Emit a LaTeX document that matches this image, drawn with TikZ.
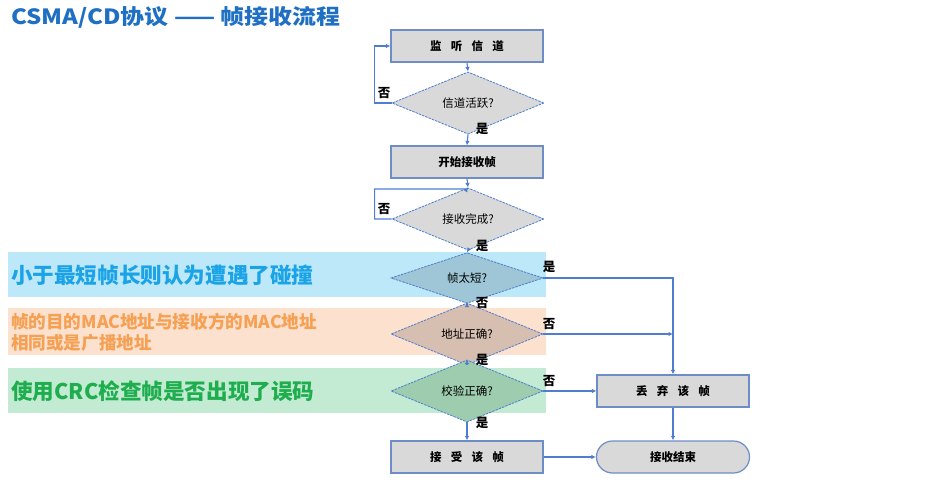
\documentclass[tikz,border=0pt]{standalone}
\usepackage{fontspec}
\setmainfont{Noto Sans CJK SC}
\usetikzlibrary{shapes.geometric,shapes.misc,arrows.meta}
\definecolor{titleblue}{HTML}{1F6FC2}
\definecolor{lineblue}{HTML}{4F7ED0}
\definecolor{boxborder}{HTML}{6E8CC6}
\definecolor{boxfill}{HTML}{D9D9D9}
\definecolor{bandblue}{HTML}{BDE8F9}
\definecolor{bandorange}{HTML}{FCE1CF}
\definecolor{bandgreen}{HTML}{C3EBD3}
\definecolor{txtblue}{HTML}{1AA3E6}
\definecolor{txtorange}{HTML}{F5A053}
\definecolor{txtgreen}{HTML}{1FAE4E}
\definecolor{dthree}{HTML}{9EC6D6}
\definecolor{dfour}{HTML}{D6BFB1}
\definecolor{dfive}{HTML}{9DCDAE}
\tikzset{
  procbox/.style={draw=boxborder, line width=1.2pt, fill=boxfill, minimum width=152pt, minimum height=32pt, inner sep=0pt, font=\fontsize{11.5}{13}\selectfont\bfseries},
  decbox/.style={diamond, draw=lineblue, dash pattern=on 2.5pt off 1pt, line width=0.8pt, fill=boxfill, minimum width=152pt, minimum height=31pt, inner sep=0pt, font=\fontsize{11.5}{13}\selectfont},
  endbox/.style={rounded rectangle, draw=boxborder, line width=1.2pt, fill=boxfill, minimum width=153pt, minimum height=32pt, inner sep=0pt, font=\fontsize{11.5}{13}\selectfont\bfseries},
  arr/.style={draw=lineblue, line width=1.1pt, -{Latex[length=4.5pt,width=4.5pt]}},
  lbl/.style={font=\fontsize{12.5}{14}\selectfont\bfseries, inner sep=0pt},
  bandtxt/.style={anchor=west, inner sep=0pt, font=\fontsize{21.6}{25}\selectfont\bfseries},
}
\newcommand{\gap}{\hspace{0.8em}}
\begin{document}
\begin{tikzpicture}[x=1pt,y=-1pt]
\useasboundingbox (0,0) rectangle (945,487);
% bands
\fill[bandblue] (8,252) rectangle (546,297);
\fill[bandorange] (8,308) rectangle (546,355);
\fill[bandgreen] (8,368) rectangle (546,413);
% title
\node[anchor=west, inner sep=0pt, text=titleblue, font=\fontsize{21}{24}\selectfont\bfseries] (title) at (11,17) {\scalebox{1.14}[1]{CSMA/CD协议 —— 帧接收流程}};
% band texts
\node[bandtxt, text=txtblue] (t1) at (11,275) {小于最短帧长则认为遭遇了碰撞};
\node[anchor=west, inner sep=0pt, text=txtorange, font=\fontsize{17.6}{21}\selectfont\bfseries, align=left] (t2) at (11,332) {帧的目的MAC地址与接收方的MAC地址\\相同或是广播地址};
\node[bandtxt, text=txtgreen] (t3) at (11,391) {使用CRC检查帧是否出现了误码};
% nodes
\node[procbox] (b1) at (467,46) {监\gap 听\gap 信\gap 道};
\node[decbox] (d1) at (468,103) {信道活跃?};
\node[procbox] (b2) at (467,162) {开始接收帧};
\node[decbox] (d2) at (468,219) {接收完成?};
\node[decbox, fill=dthree] (d3) at (467,278) {帧太短?};
\node[decbox, fill=dfour] (d4) at (467,334) {地址正确?};
\node[decbox, fill=dfive, minimum height=33pt] (d5) at (467,391) {校验正确?};
\node[procbox] (acc) at (467,457) {接\gap 受\gap 该\gap 帧};
\node[procbox] (dis) at (673,391) {丢\gap 弃\gap 该\gap 帧};
\node[endbox] (fin) at (673,457) {接收结束};
% connectors
\draw[arr] (b1.south) -- (d1.north);
\draw[arr] (d1.west) -- ++(-17,0) |- (b1.west);
\draw[arr] (d1.south) -- (b2.north);
\draw[arr] (b2.south) -- (d2.north);
\coordinate (j2) at (467,189);
\draw[arr] (d2.west) -- ++(-17,0) |- (j2) -- (d2.north);
\draw[arr] (d2.south) -- (d3.north);
\draw[arr] (d3.south) -- (d4.north);
\draw[arr] (d4.south) -- (d5.north);
\draw[arr] (d5.south) -- (acc.north);
\draw[arr] (d3.east) -| (dis.north);
\coordinate (j4) at (dis.north |- d4.east);
\draw[arr] (d4.east) -- (j4);
\draw[arr] (d5.east) -- (dis.west);
\draw[arr] (acc.east) -- (fin.west);
\draw[arr] (dis.south) -- (fin.north);
% labels
\node[lbl] (l1) at (384,93) {否};
\node[lbl] (l2) at (482,129) {是};
\node[lbl] (l3) at (384,209) {否};
\node[lbl] (l4) at (482,246) {是};
\node[lbl] (l5) at (549,267) {是};
\node[lbl] (l6) at (482,303) {否};
\node[lbl] (l7) at (549,324) {否};
\node[lbl] (l8) at (482,360) {是};
\node[lbl] (l9) at (549,381) {否};
\node[lbl] (l10) at (482,423) {是};
\end{tikzpicture}
\end{document}
